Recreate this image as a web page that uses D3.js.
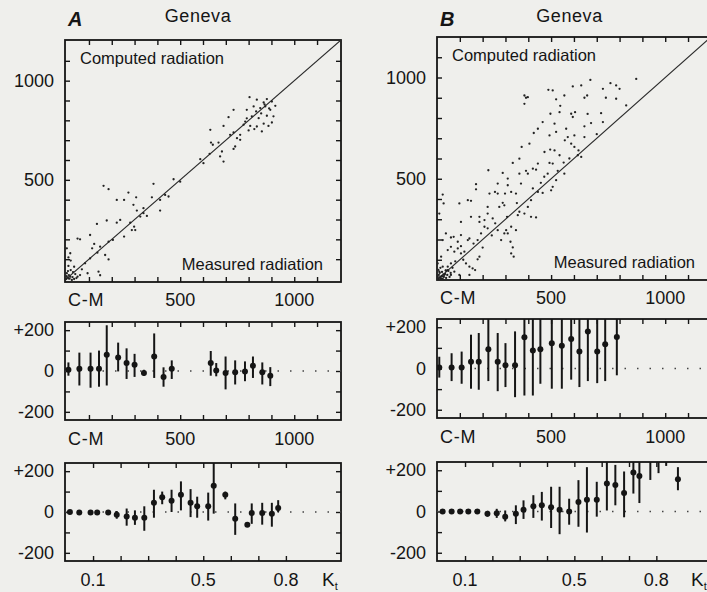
<!DOCTYPE html>
<html><head><meta charset="utf-8">
<script src="https://cdn.jsdelivr.net/npm/d3@7"></script>
<style>
html,body{margin:0;padding:0;background:#efefec;}
svg{display:block;}
text{font-family:"Liberation Sans",Arial,Helvetica,sans-serif;fill:#151515;}
</style>
</head><body>
<svg id="c" width="707" height="592"></svg>
<script>
// ---------- DATA ----------
const panelNames = ["A", "B"];
const city = "Geneva";
const scatterYLabels = [1000, 500];
const radTickLabels = [500, 1000];
const diffLabels = [[200, "+200"], [0, "0"], [-200, "-200"]];
const ktLabels = [0.1, 0.5, 0.8];

// Panel A: [measured, computed] W/m2
const scatterA = [
[804,917],[836,904],[866,890],[880,907],[902,895],[917,873],[822,870],[851,862],[873,870],[895,853],
[792,853],[833,845],[814,820],[844,811],[880,823],[792,810],[734,853],[712,816],[690,772],[778,778],
[807,772],[836,769],[866,783],[887,772],[902,789],[800,749],[825,756],[734,739],[719,727],[749,710],
[763,702],[741,668],[734,656],[632,752],[635,688],[643,677],[668,688],[683,643],[675,618],[629,631],
[690,592],[602,584],[588,604],[763,727],[785,794],[909,820],[858,744],[870,880],[890,860],[855,835],
[471,503],[383,480],[500,491],[273,436],[307,412],[376,412],[434,424],[449,416],[412,399],[295,374],
[310,345],[339,332],[354,318],[412,345],[164,470],[186,453],[237,298],[222,284],[178,295],[135,278],
[281,284],[288,247],[298,264],[303,247],[254,214],[105,222],[61,200],[50,204],[149,163],[123,177],
[114,155],[137,133],[171,121],[186,99],[186,188],[3,155],[18,130],[10,66],[20,45],[35,62],
[50,12],[61,20],[94,29],[142,37],[149,19],[0,0],[10,3],[18,12],[25,-5],[35,0],
[3,29],[10,109],[222,399],[254,399],[339,357],[325,315],[205,197],[105,104],[83,79],[20,93],
[69,49],[5,8],[12,20],[28,10],[8,40],[40,25],[15,2],[2,15],[30,35],[45,5]
];

// Panel B: [measured, computed] W/m2
const scatterB = [
[672,988],[632,961],[595,956],[488,939],[507,936],[760,972],[785,961],[800,944],[727,944],[658,911],
[646,900],[558,911],[522,892],[873,993],[383,911],[390,900],[398,903],[383,870],[785,895],[829,862],
[588,821],[605,829],[595,805],[537,829],[497,821],[719,824],[727,780],[463,780],[442,747],[515,772],
[566,747],[675,775],[646,759],[602,714],[573,706],[522,731],[493,714],[405,673],[424,726],[371,657],
[332,578],[361,599],[496,644],[515,640],[537,616],[471,632],[588,673],[602,657],[646,706],[632,608],
[617,616],[507,575],[493,578],[434,545],[442,575],[390,539],[398,525],[420,550],[485,525],[529,539],
[558,525],[522,493],[500,443],[507,460],[463,430],[442,435],[420,452],[288,529],[310,468],[310,501],
[266,476],[254,435],[230,427],[225,542],[325,435],[346,427],[361,525],[368,476],[171,473],[171,448],
[135,394],[149,391],[98,378],[149,312],[105,287],[186,312],[186,287],[208,296],[222,328],[244,304],
[222,255],[273,361],[288,381],[295,369],[307,312],[325,263],[295,230],[281,197],[266,246],[361,337],
[383,328],[412,312],[434,309],[398,361],[412,394],[354,320],[346,246],[322,189],[332,161],[336,115],
[325,131],[303,246],[310,230],[208,263],[178,197],[193,230],[135,197],[142,205],[105,222],[91,189],
[73,213],[61,210],[76,140],[91,156],[105,167],[178,102],[186,115],[167,49],[142,66],[156,57],
[127,82],[105,131],[61,82],[47,66],[76,41],[25,422],[29,378],[10,328],[25,197],[39,230],
[61,164],[47,148],[18,115],[3,82],[10,41],[25,66],[39,46],[61,25],[98,25],[142,25],
[222,361],[266,427],[298,427],[47,49],[32,25],[18,8],[5,5],[10,12],[15,8],[20,20],
[25,5],[8,25],[30,15],[12,35],[35,30],[40,10],[3,18],[18,3],[22,40],[45,25],
[28,28],[50,45],[6,50],[55,15],[15,60],[38,48],[60,35],[0,2],[2,10],[14,14],
[26,18],[68,60],[80,92],[115,100],[120,140],[160,180],[200,160],[240,220],[255,280],[350,380],
[455,480],[470,510],[555,580],[580,600],[620,640],[700,720],[560,690],[660,820],[540,860],[740,900]
];

// C-M vs measured radiation: [radiation, mean, low, high]
const radErrA = [
[10,6,-23,42],[58,11,-71,90],[107,11,-82,90],[144,11,-77,100],[178,79,-71,224],[228,66,-2,139],
[265,39,-39,111],[300,31,-29,84],[341,-10,-23,6],[386,71,-34,184],[427,-29,-77,18],[463,11,-39,52],
[634,39,-23,98],[658,3,-26,39],[699,-10,-90,71],[741,-6,-66,52],[784,-2,-50,47],[819,26,-34,71],
[860,-6,-66,42],[895,-23,-74,19]
];
const radErrB = [
[10,5,-44,57],[64,5,-61,74],[108,5,-74,82],[149,33,-98,164],[183,33,-103,172],[225,93,-61,260],
[266,33,-110,172],[300,16,-90,123],[342,16,-139,180],[383,151,-131,260],[420,87,-131,260],[453,93,-74,260],
[503,123,-98,260],[547,110,-98,260],[588,143,-54,260],[624,82,-90,260],[661,180,-61,260],[702,82,-71,260],
[737,118,-61,260],[788,153,-33,260]
];

// C-M vs clearness index Kt: [Kt, mean, low, high]
const ktErrA = [
[0.016,0,-8,8],[0.050,-2,-8,6],[0.091,-2,-8,5],[0.115,-2,-8,5],[0.155,-2,-8,5],[0.186,-13,-33,5],
[0.222,-22,-67,17],[0.252,-28,-63,8],[0.286,-28,-92,28],[0.321,45,-28,109],[0.351,72,38,100],[0.385,55,0,109],
[0.419,84,8,150],[0.454,45,-25,112],[0.478,28,-28,75],[0.518,28,-42,95],[0.538,129,-8,260],[0.580,84,62,100],
[0.616,-33,-112,42],[0.660,-63,-72,-55],[0.676,-5,-58,42],[0.714,-5,-62,45],[0.749,-8,-72,45],[0.772,20,0,58]
];
const ktErrB = [
[0.018,0,-5,5],[0.051,0,-5,5],[0.082,0,-5,5],[0.112,0,-5,5],[0.145,0,-5,5],[0.182,-11,-25,2],
[0.216,-8,-31,13],[0.247,-25,-48,5],[0.286,-11,-61,30],[0.314,8,-36,54],[0.350,25,-31,79],[0.381,30,-44,95],
[0.415,21,-80,120],[0.446,8,-110,120],[0.481,0,-64,62],[0.515,46,-74,152],[0.546,57,-102,215],[0.582,57,-25,144],
[0.619,136,5,260],[0.650,128,30,226],[0.682,90,-28,194],[0.716,189,87,260],[0.738,172,41,260],[0.778,290,153,300],
[0.808,280,186,300],[0.836,290,221,300],[0.879,156,103,215]
];

// ---------- LAYOUT ----------
const layout = [
  {left:65, right:341, sTop:40, sBot:282, sx:[-5,1205], sy:[-15,1205], mTop:322, mBot:420, bTop:463, bBot:561, kt0:65.5, kt1:341, ktLab:322},
  {left:437, right:712, sTop:37, sBot:280, sx:[0,1205], sy:[0,1200], mTop:319, mBot:418, bTop:462, bBot:561, kt0:437.7, kt1:711, ktLab:691}
];
const scatters = [scatterA, scatterB];
const radErrs = [radErrA, radErrB];
const ktErrs = [ktErrA, ktErrB];

const svg = d3.select("#c");
const INK = "#151515";
const NUM = 18;

function frame(g, x, y, xt, yt, top, bot, left, right, id) {
  const ax = [
    [d3.axisBottom(x).tickValues(xt), `translate(0,${bot})`],
    [d3.axisTop(x).tickValues(xt), `translate(0,${top})`],
    [d3.axisLeft(y).tickValues(yt), `translate(${left},0)`],
    [d3.axisRight(y).tickValues(yt), `translate(${right},0)`]
  ];
  ax.forEach(([a, t]) => {
    const s = g.append("g").attr("transform", t).call(a.tickSize(-5).tickFormat(""));
    s.select(".domain").remove();
    s.selectAll("line").attr("stroke", INK).attr("stroke-width", 1.4);
  });
  g.append("rect").attr("x", left).attr("y", top).attr("width", right - left).attr("height", bot - top)
    .attr("fill", "none").attr("stroke", INK).attr("stroke-width", 1.8);
  g.append("clipPath").attr("id", id).append("rect")
    .attr("x", left).attr("y", top).attr("width", right - left).attr("height", bot - top);
}

function errPanel(g, x, y, data, L, top, bot, id) {
  const c = g.append("g").attr("clip-path", `url(#${id})`);
  c.append("line").attr("x1", L.left).attr("x2", L.right).attr("y1", y(0)).attr("y2", y(0))
    .attr("stroke", "#444").attr("stroke-width", 1.3).attr("stroke-dasharray", "1.5,11");
  c.selectAll("line.e").data(data).join("line").attr("class", "e")
    .attr("x1", d => x(d[0])).attr("x2", d => x(d[0]))
    .attr("y1", d => y(d[2])).attr("y2", d => y(d[3]))
    .attr("stroke", INK).attr("stroke-width", 2);
  c.selectAll("circle").data(data).join("circle")
    .attr("cx", d => x(d[0])).attr("cy", d => y(d[1])).attr("r", 3).attr("fill", INK);
}

layout.forEach((L, i) => {
  const g = svg.append("g");
  // --- scatter ---
  const x = d3.scaleLinear().domain(L.sx).range([L.left, L.right]);
  const y = d3.scaleLinear().domain(L.sy).range([L.sBot, L.sTop]);
  const radTicks = d3.range(100, 1200, 100);
  frame(g, x, y, radTicks, radTicks, L.sTop, L.sBot, L.left, L.right, "cs" + i);
  const sc = g.append("g").attr("clip-path", `url(#cs${i})`);
  const lim = Math.max(L.sx[1], L.sy[1]);
  sc.append("line").attr("x1", x(L.sx[0])).attr("y1", y(L.sx[0])).attr("x2", x(lim)).attr("y2", y(lim))
    .attr("stroke", "#2a2a2a").attr("stroke-width", 1.1);
  sc.selectAll("circle").data(scatters[i]).join("circle")
    .attr("cx", d => x(d[0])).attr("cy", d => y(d[1])).attr("r", 1.15).attr("fill", "#222");

  g.append("text").attr("x", L.left + 3).attr("y", 26).attr("font-size", 20).attr("font-weight", "bold")
    .attr("font-style", "italic").text(panelNames[i]);
  g.append("text").attr("x", (L.left + L.right) / 2 - 5).attr("y", 22).attr("font-size", 18)
    .attr("letter-spacing", 0.6).attr("text-anchor", "middle").text(city);
  g.append("text").attr("x", L.left + 15).attr("y", L.sTop + 24).attr("font-size", 16.5).text("Computed radiation");
  g.append("text").attr("x", L.left + 258).attr("y", L.sBot - 12).attr("font-size", 16.5)
    .attr("text-anchor", "end").text("Measured radiation");
  scatterYLabels.forEach(v => g.append("text").attr("x", L.left - 11).attr("y", y(v) + 6)
    .attr("font-size", NUM).attr("text-anchor", "end").text(v));

  // labels under scatter
  const lab1 = L.sBot + 24;
  g.append("text").attr("x", L.left + 3).attr("y", lab1).attr("font-size", NUM).attr("letter-spacing", 0.8).text("C-M");
  radTickLabels.forEach(v => g.append("text").attr("x", x(v)).attr("y", lab1)
    .attr("font-size", NUM).attr("text-anchor", "middle").text(v));

  // --- C-M vs radiation ---
  const ym = d3.scaleLinear().domain([-240, 240]).range([L.mBot, L.mTop]);
  frame(g, x, ym, radTicks, [-200, -100, 0, 100, 200], L.mTop, L.mBot, L.left, L.right, "cm" + i);
  errPanel(g, x, ym, radErrs[i], L, L.mTop, L.mBot, "cm" + i);
  diffLabels.forEach(([v, t]) => g.append("text").attr("x", L.left - 11).attr("y", ym(v) + 6)
    .attr("font-size", NUM).attr("text-anchor", "end").text(t));
  const lab2 = L.mBot + 25;
  g.append("text").attr("x", L.left + 3).attr("y", lab2).attr("font-size", NUM).attr("letter-spacing", 0.8).text("C-M");
  radTickLabels.forEach(v => g.append("text").attr("x", x(v)).attr("y", lab2)
    .attr("font-size", NUM).attr("text-anchor", "middle").text(v));

  // --- C-M vs Kt ---
  const xk = d3.scaleLinear().domain([0, 1]).range([L.kt0, L.kt1]);
  const yb = d3.scaleLinear().domain([-240, 240]).range([L.bBot, L.bTop]);
  frame(g, xk, yb, d3.range(1, 9).map(k => k / 10), [-200, -100, 0, 100, 200], L.bTop, L.bBot, L.left, L.right, "cb" + i);
  errPanel(g, xk, yb, ktErrs[i], L, L.bTop, L.bBot, "cb" + i);
  diffLabels.forEach(([v, t]) => g.append("text").attr("x", L.left - 11).attr("y", yb(v) + 6)
    .attr("font-size", NUM).attr("text-anchor", "end").text(t));
  ktLabels.forEach(v => g.append("text").attr("x", xk(v)).attr("y", L.bBot + 25)
    .attr("font-size", NUM).attr("text-anchor", "middle").text(v));
  const kt = g.append("text").attr("x", L.ktLab).attr("y", L.bBot + 25).attr("font-size", 19);
  kt.append("tspan").text("K");
  kt.append("tspan").attr("font-size", 11).attr("dy", 4).text("t");
});
</script>
</body></html>
